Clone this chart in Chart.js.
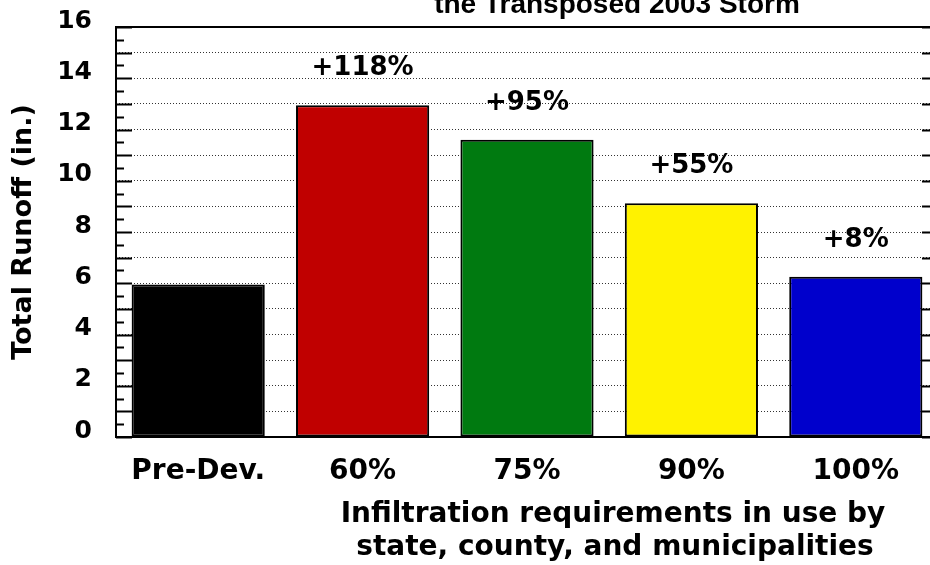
<!DOCTYPE html>
<html>
<head>
<meta charset="utf-8">
<script src="https://cdn.jsdelivr.net/npm/chart.js@4"></script>
<style>
  html, body { margin: 0; padding: 0; overflow: hidden; background: #fff; }
  #wrap { position: relative; width: 930px; height: 565px; overflow: hidden; }
  #runoffChart { position: absolute; left: 0; top: -20px; }
</style>
</head>
<body>
<div id="wrap">
  <canvas id="runoffChart" width="945" height="585"></canvas>
</div>
<script>
// Data
const categories = ['Pre-Dev.', '60%', '75%', '90%', '100%'];
const runoffValues = [5.95, 12.95, 11.6, 9.12, 6.25];
const increaseLabels = ['', '+118%', '+95%', '+55%', '+8%'];
const barColors = ['#000000', '#c00000', '#007a10', '#fff200', '#0000cc'];
const yTicks = [0, 2, 4, 6, 8, 10, 12, 14, 16];

const chartTitle = 'the Transposed 2003 Storm';
const xTitleLines = ['Infiltration requirements in use by', 'state, county, and municipalities'];
const yTitle = 'Total Runoff (in.)';

const FONT = '"DejaVu Sans", Verdana, sans-serif';

// Frame, inward tick marks and percent labels
const decorations = {
    id: 'decorations',
    afterDatasetsDraw(chart) {
        const ctx = chart.ctx;
        const area = chart.chartArea;
        const y = chart.scales.y;

        ctx.save();
        ctx.strokeStyle = '#000';
        ctx.lineWidth = 2;
        // small ticks on half units, long ones on whole units
        for (let v = 0; v <= 16; v += 0.5) {
            const py = Math.round(y.getPixelForValue(v)) + 0.5;
            const len = Number.isInteger(v) ? 16 : 8;
            ctx.beginPath();
            ctx.moveTo(area.left, py);
            ctx.lineTo(area.left + len, py);
            ctx.moveTo(area.right, py);
            ctx.lineTo(area.right - len, py);
            ctx.stroke();
        }
        ctx.strokeRect(area.left, area.top, area.right - area.left, area.bottom - area.top);

        // percent increase above each bar
        const meta = chart.getDatasetMeta(0);
        ctx.fillStyle = '#000';
        ctx.font = 'bold 26px ' + FONT;
        ctx.textAlign = 'center';
        ctx.textBaseline = 'middle';
        meta.data.forEach((bar, i) => {
            if (increaseLabels[i]) {
                ctx.fillText(increaseLabels[i], bar.x, bar.y - 37);
            }
        });

        // chart title (top line is cut off in the reference)
        ctx.font = 'bold 28px "Liberation Sans", Arial, sans-serif';
        ctx.textBaseline = 'alphabetic';
        ctx.fillText(chartTitle, 617, 33);

        // x axis title, two lines
        ctx.font = 'bold 28px ' + FONT;
        ctx.textBaseline = 'middle';
        ctx.fillText(xTitleLines[0], 613, 535);
        ctx.fillText(xTitleLines[1], 615, 568);
        ctx.restore();
    }
};

new Chart(document.getElementById('runoffChart'), {
    type: 'bar',
    data: {
        labels: categories,
        datasets: [{
            data: runoffValues,
            backgroundColor: barColors,
            borderColor: '#000',
            borderWidth: 2,
            borderSkipped: false,
            barPercentage: 0.81,
            categoryPercentage: 1.0
        }]
    },
    options: {
        responsive: false,
        animation: false,
        events: [],
        layout: {
            padding: { top: 47, right: 7, bottom: 0, left: 0 }
        },
        scales: {
            x: {
                grid: { display: false },
                border: { display: false },
                ticks: {
                    color: '#000',
                    padding: 10,
                    font: { family: FONT, size: 28, weight: 'bold' }
                },
                afterFit: function(scale) { scale.height = 128; }
            },
            y: {
                min: 0,
                max: 16,
                grid: {
                    color: '#333',
                    lineWidth: 1,
                    drawTicks: false
                },
                border: { display: false, dash: [1, 2] },
                ticks: {
                    stepSize: 1,
                    autoSkip: false,
                    color: '#000',
                    padding: 24,
                    labelOffset: -6,
                    font: { family: FONT, size: 25, weight: 'bold' },
                    callback: function(value) {
                        return yTicks.includes(value) ? value : '';
                    }
                },
                title: {
                    display: true,
                    text: yTitle,
                    color: '#000',
                    padding: { top: 8, bottom: 0 },
                    font: { family: FONT, size: 27, weight: 'bold' }
                },
                afterFit: function(scale) { scale.width = 116; }
            }
        },
        plugins: {
            legend: { display: false },
            tooltip: { enabled: false }
        }
    },
    plugins: [decorations]
});
</script>
</body>
</html>
